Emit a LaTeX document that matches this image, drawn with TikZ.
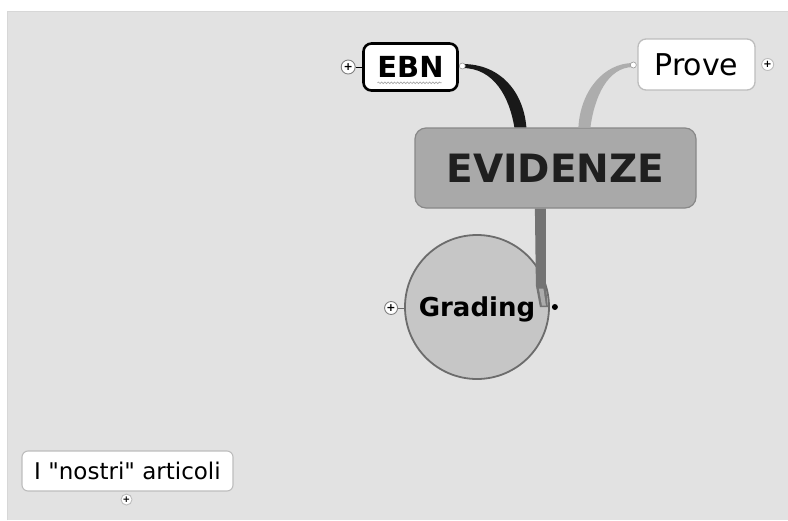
\documentclass[tikz,border=0pt]{standalone}
\usepackage{fontspec}
\newfontfamily\df{DejaVu Sans}
\usetikzlibrary{decorations.pathmorphing,calc}
\definecolor{bggray}{HTML}{E2E2E2}
\definecolor{evfill}{HTML}{A9A9A9}
\definecolor{evline}{HTML}{888888}
\definecolor{grfill}{HTML}{C6C6C6}
\definecolor{grline}{HTML}{6C6C6C}
\definecolor{lightline}{HTML}{BDBDBD}
\definecolor{provecon}{HTML}{ADADAD}
\begin{document}
\begin{tikzpicture}[x=1pt,y=-1pt,
  topicbox/.style={rectangle, rounded corners=8pt, fill=white, inner sep=0pt, font=\df},
  plusbtn/.style={circle, draw=gray, fill=white, line width=0.9pt, minimum size=#1, inner sep=0pt},
  portdot/.style={circle, draw=gray!80, fill=white, line width=0.6pt, minimum size=6pt, inner sep=0pt}
]
\useasboundingbox (0,0) rectangle (788,520);
\fill[white] (0,0) rectangle (788,520);
\fill[bggray] (7,11) rectangle (788,520);
\draw[lightline!60, line width=0.5pt] (7,520) -- (7,11) -- (788,11);

% main nodes
\node[topicbox, draw=evline, fill=evfill, line width=1.2pt, rounded corners=11pt,
      minimum width=281pt, minimum height=80pt, font=\df\bfseries\fontsize{39}{42}\selectfont,
      text=black!88] (evid) at (555.5,168) {EVIDENZE};
\node[topicbox, draw=black, line width=2.6pt, minimum width=94pt, minimum height=47pt,
      font=\df\bfseries\fontsize{29}{32}\selectfont] (ebn) at (410.5,67) {EBN};
\node[topicbox, draw=lightline, line width=1.3pt, minimum width=117pt, minimum height=51pt,
      font=\df\fontsize{30}{33}\selectfont] (prove) at (696.5,64.5) {Prove};
\node[circle, draw=grline, fill=grfill, line width=1.8pt, minimum size=144pt, inner sep=0pt,
      text depth=0pt, font=\df\bfseries\fontsize{26}{29}\selectfont] (grad) at (477,307) {Grading};
\node[topicbox, draw=lightline, line width=1.1pt, rounded corners=6pt, minimum width=211pt,
      minimum height=40pt, font=\df\fontsize{23}{26}\selectfont] (art) at (127.5,471) {I "nostri" articoli};

% wavy underline under EBN
\draw[gray!70, line width=0.7pt, decorate, decoration={snake, amplitude=0.8pt, segment length=3.2pt}]
  ($(ebn.south)+(-33,-9)$) -- ($(ebn.south)+(31,-9)$);

% ports and connector end points
\coordinate (ebnport) at ($(ebn.east)+(3.5,-1)$);
\coordinate (proveport) at ($(prove.west)+(-4,0.5)$);
\coordinate (evtopA) at ($(evid.north west)+(106,0)$);
\coordinate (evtopB) at ($(evid.north west)+(170,0)$);
\coordinate (evbot) at ($(evid.south west)+(126,0)$);
\coordinate (gradend) at ($(grad.east)+(-2,0)$);

% tapered connectors
\fill[black!90] ($(ebnport)+(0,-2)$) .. controls +(38,0) and +(-3,-36) .. ($(evtopA)+(6,0)$)
   -- ($(evtopA)+(-6,0)$) .. controls +(-5,-30) and +(32,0) .. ($(ebnport)+(0,2)$) -- cycle;
\fill[provecon] ($(proveport)+(0,-2)$) .. controls +(-30,0) and +(2,-36) .. ($(evtopB)+(-6,0)$)
   -- ($(evtopB)+(6,0)$) .. controls +(4,-30) and +(-26,0) .. ($(proveport)+(0,2)$) -- cycle;
\node[portdot] (ebnportdot) at (ebnport) {};
\node[portdot] (proveportdot) at (proveport) {};
\fill[grline!95] ($(evbot)+(-5.5,0)$) -- ($(evbot)+(5.5,0)$) -- ($(evbot)+(5.5,77)$)
   -- (gradend) -- ($(gradend)+(-8,0)$) -- ($(evbot)+(-4.5,77)$) -- cycle;
\fill[grfill!70!grline] ($(evbot)+(-1.5,80)$) -- ($(evbot)+(3,80)$) -- ($(gradend)+(-2,-1.5)$) -- ($(gradend)+(-6,-1.5)$) -- cycle;
\node[circle, fill=black, minimum size=6pt, inner sep=0pt] (gdot) at ($(grad.east)+(5,0)$) {};

% expand buttons
\node[plusbtn=14pt, font=\df\bfseries\fontsize{11}{11}\selectfont] (ebnplus) at ($(ebn.west)+(-14,0)$) {+};
\draw[black, line width=1pt] (ebnplus) -- (ebn.west);
\node[plusbtn=12pt, draw=lightline, font=\df\bfseries\fontsize{10}{10}\selectfont] (proveplus) at ($(prove.east)+(12,0)$) {+};
\node[plusbtn=13pt, font=\df\bfseries\fontsize{11}{11}\selectfont] (gradplus) at ($(grad.west)+(-13,1)$) {+};
\draw[grline, line width=1pt] (gradplus) -- ($(grad.west)+(0,1)$);
\node[plusbtn=11pt, draw=lightline, font=\df\bfseries\fontsize{9}{9}\selectfont] (artplus) at ($(art.south)+(-1,8)$) {+};
\end{tikzpicture}
\end{document}
